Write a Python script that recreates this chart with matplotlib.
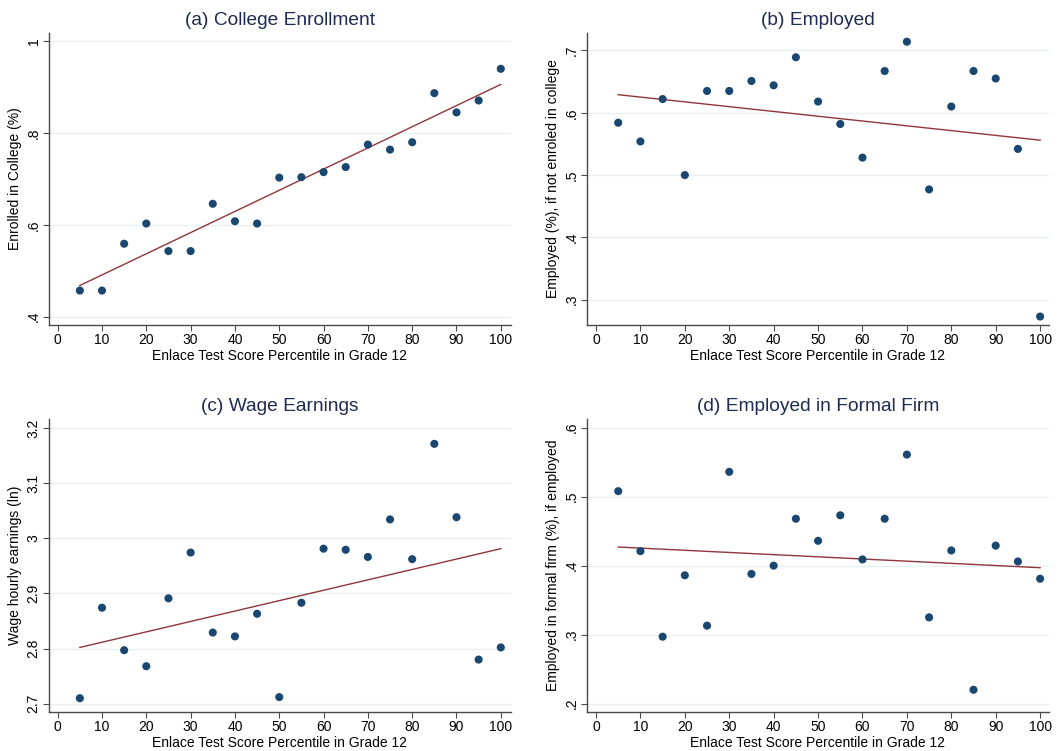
import matplotlib
matplotlib.use("Agg")
import matplotlib.pyplot as plt
import numpy as np

plt.rcParams['font.family'] = ['Liberation Sans', 'DejaVu Sans']

# Binned means by test-score percentile (5, 10, ..., 100)
percentile = [5, 10, 15, 20, 25, 30, 35, 40, 45, 50,
              55, 60, 65, 70, 75, 80, 85, 90, 95, 100]

college_enrollment = [0.457, 0.457, 0.559, 0.603, 0.543, 0.543, 0.646, 0.608, 0.603, 0.703,
                      0.704, 0.715, 0.726, 0.775, 0.764, 0.780, 0.887, 0.845, 0.871, 0.940]
employed = [0.584, 0.554, 0.622, 0.500, 0.635, 0.635, 0.651, 0.644, 0.689, 0.618,
            0.582, 0.528, 0.667, 0.714, 0.477, 0.610, 0.667, 0.655, 0.542, 0.273]
wage_earnings = [2.710, 2.874, 2.797, 2.768, 2.891, 2.974, 2.829, 2.822, 2.863, 2.712,
                 2.883, 2.981, 2.979, 2.966, 3.034, 2.962, 3.171, 3.038, 2.780, 2.802]
formal_firm = [0.508, 0.421, 0.297, 0.386, 0.313, 0.536, 0.388, 0.400, 0.468, 0.436,
               0.473, 0.409, 0.468, 0.561, 0.325, 0.422, 0.220, 0.429, 0.406, 0.381]

# Linear fit lines: values at the first and last percentile bin
fit_x = [5, 100]
fit_enrollment = [0.468, 0.906]
fit_employed = [0.629, 0.556]
fit_wage = [2.802, 2.981]
fit_formal = [0.427, 0.397]

titles = ["(a) College Enrollment", "(b) Employed",
          "(c) Wage Earnings", "(d) Employed in Formal Firm"]
ylabels = ["Enrolled in College (%)", "Employed (%), if not enroled in college",
           "Wage hourly earnings (ln)", "Employed in formal firm (%), if employed"]
xlabel = "Enlace Test Score Percentile in Grade 12"
xticks = [0, 10, 20, 30, 40, 50, 60, 70, 80, 90, 100]

yticks_a = [0.4, 0.6, 0.8, 1.0]
ytick_labels_a = [".4", ".6", ".8", "1"]
yticks_b = [0.3, 0.4, 0.5, 0.6, 0.7]
ytick_labels_b = [".3", ".4", ".5", ".6", ".7"]
yticks_c = [2.7, 2.8, 2.9, 3.0, 3.1, 3.2]
ytick_labels_c = ["2.7", "2.8", "2.9", "3", "3.1", "3.2"]
yticks_d = [0.2, 0.3, 0.4, 0.5, 0.6]
ytick_labels_d = [".2", ".3", ".4", ".5", ".6"]

MARKER = "#1a476f"
FITLINE = "#90353b"
GRID = "#e6eff1"
TITLE = "#1e2a52"
SPINE = "#4a4a4a"

W, H = 1062, 751
fig = plt.figure(figsize=(W / 100, H / 100), dpi=100)
fig.patch.set_facecolor("white")


def make_axes(left, top, right, bottom):
    return fig.add_axes([left / W, 1 - bottom / H, (right - left) / W, (bottom - top) / H])


panels = [
    dict(box=(49, 33, 511, 325), y=college_enrollment, fit=fit_enrollment,
         xlim=(-1.96, 102.3), ylim=(0.382, 1.018), yt=yticks_a, ytl=ytick_labels_a),
    dict(box=(587, 33, 1049, 325), y=employed, fit=fit_employed,
         xlim=(-2.03, 102.0), ylim=(0.2594, 0.728), yt=yticks_b, ytl=ytick_labels_b),
    dict(box=(49, 419, 511, 712), y=wage_earnings, fit=fit_wage,
         xlim=(-1.96, 102.3), ylim=(2.685, 3.216), yt=yticks_c, ytl=ytick_labels_c),
    dict(box=(587, 419, 1049, 712), y=formal_firm, fit=fit_formal,
         xlim=(-2.03, 102.0), ylim=(0.1878, 0.6126), yt=yticks_d, ytl=ytick_labels_d),
]

for i, p in enumerate(panels):
    ax = make_axes(*p["box"])
    ax.set_xlim(*p["xlim"])
    ax.set_ylim(*p["ylim"])
    for yv in p["yt"]:
        ax.axhline(yv, color=GRID, lw=1.0, zorder=0)
    ax.scatter(percentile, p["y"], s=34, color=MARKER, edgecolor="none", zorder=3)
    ax.plot(fit_x, p["fit"], color=FITLINE, lw=1.0, zorder=2)

    ax.set_xticks(xticks)
    ax.set_xticklabels([str(t) for t in xticks])
    ax.set_yticks(p["yt"])
    ax.set_yticklabels(p["ytl"], rotation=90, va="center")
    ax.tick_params(axis="both", direction="out", length=4, width=0.8,
                   color=SPINE, labelsize=10, labelcolor="black", pad=2)

    for side in ("top", "right"):
        ax.spines[side].set_visible(False)
    for side in ("left", "bottom"):
        ax.spines[side].set_color(SPINE)
        ax.spines[side].set_linewidth(1.0)

    ax.set_title(titles[i], fontsize=13.8, color=TITLE, pad=6)
    ax.set_xlabel(xlabel, fontsize=10, labelpad=1)
    ax.set_ylabel(ylabels[i], fontsize=10, labelpad=3)

fig.savefig("out.png", dpi=100, facecolor="white")
